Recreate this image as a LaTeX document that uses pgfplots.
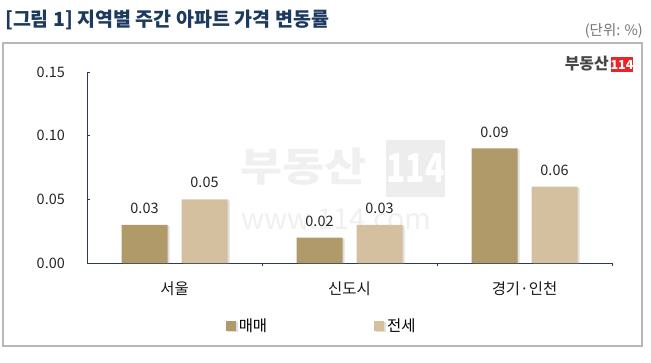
\documentclass[border=0pt]{standalone}
\usepackage{fontspec}
\setmainfont{Noto Sans CJK KR}
\usepackage{pgfplots}
\pgfplotsset{compat=1.18}
\usetikzlibrary{shadows}
\definecolor{maemae}{HTML}{B09A6A}
\definecolor{jeonse}{HTML}{D4C09E}
\definecolor{titleblue}{HTML}{1C3A5E}
\definecolor{axisnavy}{HTML}{2E3A55}
\definecolor{logored}{HTML}{E8262A}
\begin{document}
\begin{tikzpicture}[x=1bp,y=1bp]
\useasboundingbox (0,0) rectangle (651,362);
% watermark
\node[anchor=west, font=\fontsize{40}{40}\selectfont\bfseries, text=black!6, inner sep=0, xscale=1.15] at (240,195) {부동산};
\fill[black!7] (386,165) rectangle (445,222);
\node[font=\fontsize{40}{40}\selectfont\bfseries, text=white, inner sep=0, xscale=0.8] at (415.5,193.5) {114};
\node[anchor=west, font=\fontsize{29}{29}\selectfont, text=black!6, inner sep=0] at (241,143) {www.114.com};
% frame
\draw[black!28, line width=1.5bp] (3,16) rectangle (642,319);
% title
\node[anchor=west, inner sep=0, font=\fontsize{19.6}{21}\selectfont\bfseries, text=titleblue] at (5,342) {[그림 1] 지역별 주간 아파트 가격 변동률};
\node[anchor=east, inner sep=0, font=\fontsize{14.5}{16}\selectfont, text=black!55] at (643,331) {(단위: \%)};
% logo
\node[anchor=east, inner sep=0, font=\fontsize{16}{16}\selectfont\bfseries, text=black!72] at (609,298) {부동산};
\fill[logored] (611,290) rectangle (633,305.5);
\node[font=\fontsize{12.5}{12.5}\selectfont\bfseries, text=white, inner sep=0] at (622,297.5) {114};
\begin{axis}[
  at={(87bp,99bp)}, anchor=south west,
  scale only axis, width=525bp, height=191bp,
  xmin=-0.5, xmax=2.5, ymin=0, ymax=0.15,
  axis lines*=left,
  axis line style={axisnavy, line width=0.8bp},
  tick style={axisnavy, line width=0.8bp},
  major tick length=3bp, tick align=inside,
  ytick={0,0.05,0.1,0.15},
  /pgf/number format/assume math mode=true,
  yticklabel={\pgfmathprintnumber[fixed,fixed zerofill,precision=2]{\tick}},
  yticklabel style={font=\fontsize{14.5}{15}\selectfont, text=black!85, inner sep=0, anchor=east, xshift=-22bp},
  xtick={0.5,1.5,2.5}, xticklabels={},
  extra x ticks={0,1,2},
  extra x tick labels={서울,신도시,경기·인천},
  extra x tick style={major tick length=0pt},
  xticklabel style={font=\fontsize{15.5}{16}\selectfont, text=black!90, inner sep=0, anchor=north, yshift=-19bp},
  ybar, bar width=46bp,
  nodes near coords={\pgfmathprintnumber[fixed,fixed zerofill,precision=2]{\pgfplotspointmeta}},
  nodes near coords style={font=\fontsize{14.5}{15}\selectfont, text=black!85, inner sep=0, anchor=south, yshift=11bp},
  legend style={at={(0.448,-0.33)}, anchor=center, draw=none, fill=none, legend columns=2,
    font=\fontsize{15.5}{16}\selectfont, /tikz/every even column/.append style={column sep=104bp}},
  legend image code/.code={\fill[#1] (0bp,-5bp) rectangle (10bp,5bp);},
  legend style={nodes={inner xsep=3bp}},
]
\addplot[fill=maemae, draw=none, bar shift=-30bp, drop shadow={shadow xshift=2bp, shadow yshift=-1bp, opacity=0.25}] coordinates {(0,0.03) (1,0.02) (2,0.09)};
\addplot[fill=jeonse, draw=none, bar shift=30bp, drop shadow={shadow xshift=2bp, shadow yshift=-1bp, opacity=0.25}] coordinates {(0,0.05) (1,0.03) (2,0.06)};
\legend{매매,전세}
\end{axis}
\end{tikzpicture}
\end{document}
